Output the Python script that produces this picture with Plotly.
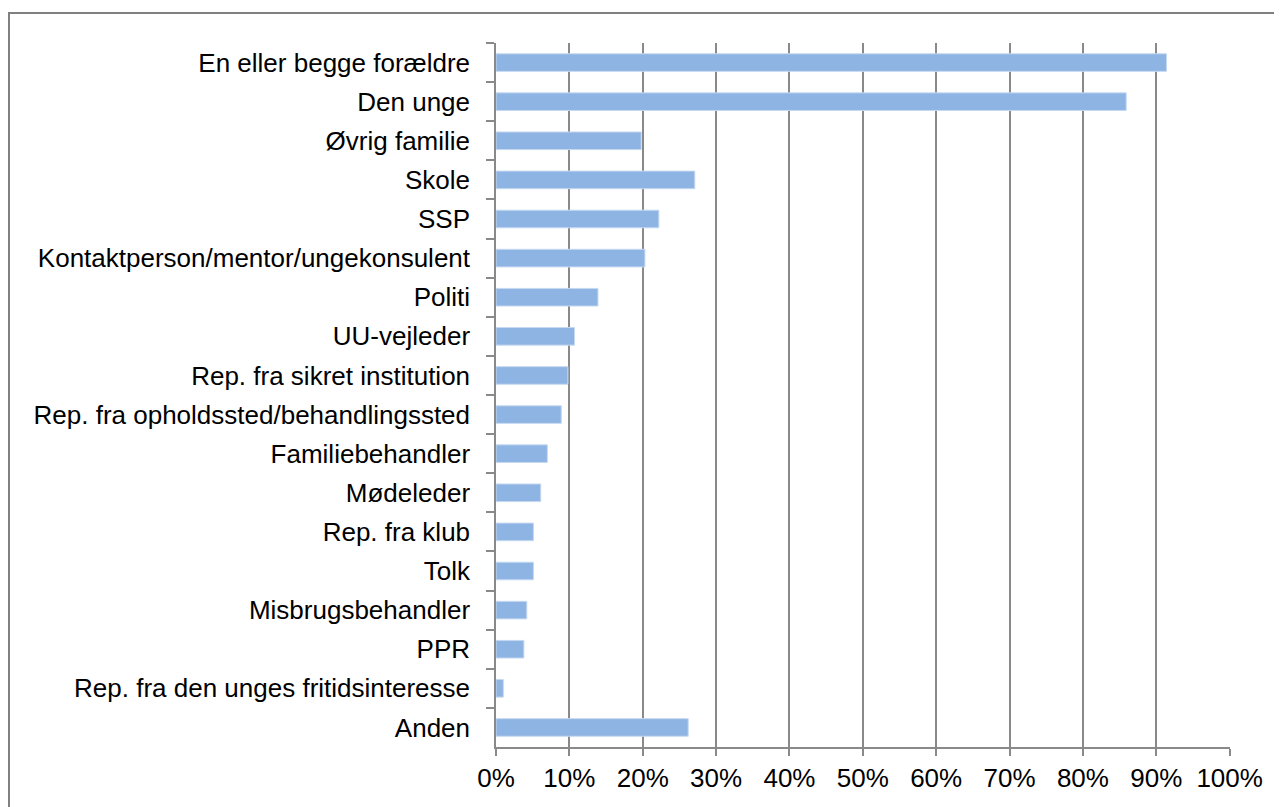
import plotly.graph_objects as go

categories = [
    "En eller begge forældre",
    "Den unge",
    "Øvrig familie",
    "Skole",
    "SSP",
    "Kontaktperson/mentor/ungekonsulent",
    "Politi",
    "UU-vejleder",
    "Rep. fra sikret institution",
    "Rep. fra opholdssted/behandlingssted",
    "Familiebehandler",
    "Mødeleder",
    "Rep. fra klub",
    "Tolk",
    "Misbrugsbehandler",
    "PPR",
    "Rep. fra den unges fritidsinteresse",
    "Anden",
]
values = [0.914, 0.859, 0.198, 0.271, 0.222, 0.203, 0.139, 0.107, 0.098,
          0.089, 0.070, 0.061, 0.051, 0.051, 0.042, 0.038, 0.010, 0.262]
x_ticks = [i / 10 for i in range(11)]
x_labels = [f"{i * 10}%" for i in range(11)]

GRID = "#898989"

fig = go.Figure(
    go.Bar(
        x=values,
        y=categories,
        orientation="h",
        marker=dict(color="#8eb4e3", line=dict(color="#c6d9f1", width=1)),
        width=0.45,
        hoverinfo="x+y",
    )
)

# page body has an 8px margin, so the figure is sized/offset to compensate
fig.update_layout(
    width=1274,
    height=799,
    margin=dict(l=488, r=52, t=35, b=60),
    paper_bgcolor="white",
    plot_bgcolor="white",
    font=dict(family="Liberation Sans, Arial, sans-serif", size=26, color="black"),
    showlegend=False,
    shapes=[
        dict(
            type="rect",
            xref="paper",
            yref="paper",
            x0=-0.6635,
            x1=1.2,
            y0=-0.3,
            y1=1.0426,
            line=dict(color="#808080", width=2),
            fillcolor="rgba(0,0,0,0)",
            layer="below",
        )
    ],
)

fig.update_xaxes(
    range=[0, 1.0005],
    tickvals=x_ticks,
    ticktext=x_labels,
    showgrid=True,
    gridcolor=GRID,
    gridwidth=1.5,
    showline=True,
    linecolor=GRID,
    linewidth=1.5,
    ticks="outside",
    ticklen=7,
    tickcolor=GRID,
    tickwidth=1.5,
    zeroline=False,
    fixedrange=True,
)

fig.update_yaxes(
    autorange="reversed",
    showgrid=False,
    showline=True,
    linecolor=GRID,
    linewidth=1.5,
    ticks="outside",
    tickson="boundaries",
    ticklen=8,
    tickcolor=GRID,
    tickwidth=1.5,
    ticklabelstandoff=19,
    fixedrange=True,
)

fig.write_html("out.html")
